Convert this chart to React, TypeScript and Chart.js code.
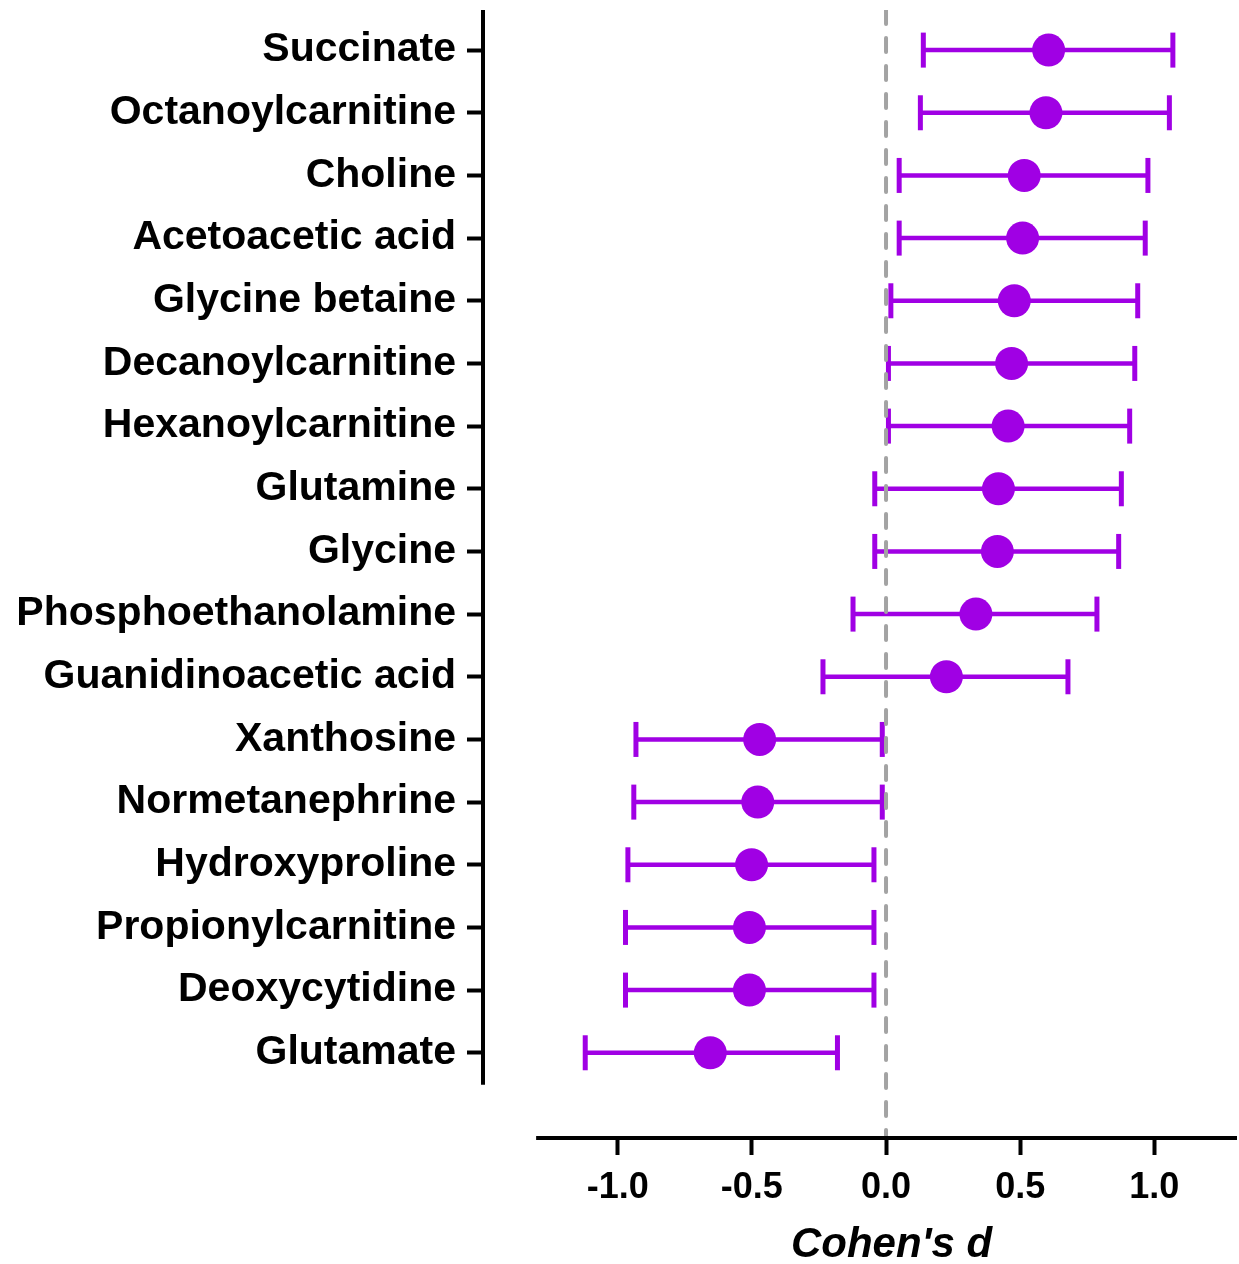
import React, { useEffect, useRef } from "react";
import { Chart, registerables } from "chart.js";

Chart.register(...registerables);

const categories = [
  "Succinate",
  "Octanoylcarnitine",
  "Choline",
  "Acetoacetic acid",
  "Glycine betaine",
  "Decanoylcarnitine",
  "Hexanoylcarnitine",
  "Glutamine",
  "Glycine",
  "Phosphoethanolamine",
  "Guanidinoacetic acid",
  "Xanthosine",
  "Normetanephrine",
  "Hydroxyproline",
  "Propionylcarnitine",
  "Deoxycytidine",
  "Glutamate",
];

const cohensD = [
  0.606, 0.596, 0.515, 0.509, 0.478, 0.468, 0.455, 0.419, 0.415, 0.335, 0.225,
  -0.471, -0.478, -0.501, -0.509, -0.509, -0.655,
];

const ciLow = [
  0.139, 0.128, 0.049, 0.049, 0.018, 0.009, 0.009, -0.042, -0.042, -0.123,
  -0.235, -0.932, -0.94, -0.962, -0.971, -0.971, -1.121,
];

const ciHigh = [
  1.069, 1.056, 0.976, 0.966, 0.938, 0.927, 0.908, 0.877, 0.867, 0.786, 0.678,
  -0.014, -0.014, -0.045, -0.045, -0.045, -0.181,
];

const xTickValues = [-1.0, -0.5, 0.0, 0.5, 1.0];
const xAxisTitle = "Cohen's d";

const PURPLE = "#A000E4";
const FONT = "'Liberation Sans', Arial, Helvetica, sans-serif";

const X_MIN = -1.502;
const X_MAX = 1.308;
const X_AXIS_START = -1.304;
const Y_MIN = -0.64;
const Y_MAX = 17.36;
const Y_AXIS_END = 16.51;

const offsetAxesPlugin = {
  id: "offsetAxes",
  afterDraw(chart: any) {
    const { ctx, chartArea, scales } = chart;
    const x = scales.x;
    const y = scales.y;
    ctx.save();
    ctx.strokeStyle = "#000";
    ctx.lineWidth = 4;
    ctx.lineCap = "butt";
    // y axis line
    ctx.beginPath();
    ctx.moveTo(chartArea.left, y.getPixelForValue(Y_MIN));
    ctx.lineTo(chartArea.left, y.getPixelForValue(Y_AXIS_END));
    ctx.stroke();
    // x axis line
    const xs = x.getPixelForValue(X_AXIS_START);
    const xe = x.getPixelForValue(X_MAX);
    ctx.beginPath();
    ctx.moveTo(xs, chartArea.bottom);
    ctx.lineTo(xe, chartArea.bottom);
    ctx.stroke();
    // x axis title
    ctx.fillStyle = "#000";
    ctx.font = `italic bold 42px ${FONT}`;
    ctx.textAlign = "center";
    ctx.textBaseline = "alphabetic";
    ctx.fillText(xAxisTitle, (xs + xe) / 2 + 5, chartArea.bottom + 119);
    ctx.restore();
  },
};

const zeroPadding = (scale: any) => {
  scale.paddingTop = 0;
  scale.paddingBottom = 0;
  scale.paddingLeft = 0;
  scale.paddingRight = 0;
};

const GAP = { x: null, y: null };
const realRadius = (r: number) => (c: any) =>
  c.raw && c.raw.x !== null && c.raw.x !== undefined ? r : 0;

export default function App() {
  const ref = useRef<HTMLCanvasElement | null>(null);

  useEffect(() => {
    if (!ref.current) return;
    const errorData: any[] = [GAP];
    categories.forEach((_, i) => {
      errorData.push({ x: ciLow[i], y: i });
      errorData.push({ x: ciHigh[i], y: i });
      errorData.push(GAP);
    });
    const pointData: any[] = [GAP];
    categories.forEach((_, i) => {
      pointData.push({ x: cohensD[i], y: i });
      pointData.push(GAP);
    });

    const chart = new Chart(ref.current, {
      type: "scatter",
      data: {
        datasets: [
          {
            label: "zero",
            data: [
              { x: 0, y: Y_MIN },
              { x: 0, y: Y_MAX },
            ],
            showLine: true,
            borderColor: "#A3A3A3",
            borderWidth: 4,
            borderDash: [14, 14],
            borderCapStyle: "round",
            pointRadius: 0,
            pointHoverRadius: 0,
          } as any,
          {
            label: "d",
            data: pointData,
            showLine: true,
            spanGaps: false,
            borderColor: "rgba(0,0,0,0)",
            borderWidth: 1,
            pointRadius: realRadius(16.5),
            pointHoverRadius: realRadius(16.5),
            pointStyle: "circle",
            pointBackgroundColor: PURPLE,
            pointBorderColor: PURPLE,
            pointBorderWidth: 0,
          } as any,
          {
            label: "ci",
            data: errorData,
            showLine: true,
            spanGaps: false,
            borderColor: PURPLE,
            borderWidth: 4.5,
            pointStyle: "line",
            rotation: 90,
            pointRadius: realRadius(17.5),
            pointHoverRadius: realRadius(17.5),
            pointBorderColor: PURPLE,
            pointBackgroundColor: PURPLE,
            pointBorderWidth: 5,
          } as any,
        ],
      },
      options: {
        animation: false,
        responsive: false,
        devicePixelRatio: 1,
        events: [],
        layout: { padding: { top: 10, right: 2, left: 0, bottom: 0 } },
        plugins: {
          legend: { display: false },
          tooltip: { enabled: false },
          title: { display: false },
        },
        scales: {
          x: {
            type: "linear",
            position: "bottom",
            min: X_MIN,
            max: X_MAX,
            afterBuildTicks: (scale: any) => {
              scale.ticks = xTickValues.map((v) => ({ value: v }));
            },
            afterFit: (scale: any) => {
              scale.height = 126;
              zeroPadding(scale);
            },
            border: { display: false },
            grid: {
              display: true,
              drawOnChartArea: false,
              drawTicks: true,
              tickLength: 17,
              tickWidth: 4,
              tickColor: "#000",
            },
            ticks: {
              autoSkip: false,
              maxRotation: 0,
              padding: 11,
              color: "#000",
              font: { family: FONT, size: 36, weight: "bold" },
              callback: (v: any) => Number(v).toFixed(1),
            },
          },
          y: {
            type: "linear",
            position: "left",
            reverse: true,
            min: Y_MIN,
            max: Y_MAX,
            afterBuildTicks: (scale: any) => {
              scale.ticks = categories.map((_, i) => ({ value: i }));
            },
            afterFit: (scale: any) => {
              scale.width = 483;
              zeroPadding(scale);
            },
            border: { display: false },
            grid: {
              display: true,
              drawOnChartArea: false,
              drawTicks: true,
              tickLength: 16,
              tickWidth: 4,
              tickColor: "#000",
            },
            ticks: {
              autoSkip: false,
              padding: 11,
              color: "#000",
              font: { family: FONT, size: 41, weight: "bold" },
              callback: (v: any) => categories[Math.round(Number(v))] ?? "",
            },
          },
        },
      },
      plugins: [offsetAxesPlugin],
    });
    return () => chart.destroy();
  }, []);

  return (
    <div
      style={{
        position: "fixed",
        left: 0,
        top: 0,
        width: 1239,
        height: 1264,
        background: "#fff",
      }}
    >
      <canvas ref={ref} width={1239} height={1264} style={{ width: 1239, height: 1264 }} />
    </div>
  );
}
